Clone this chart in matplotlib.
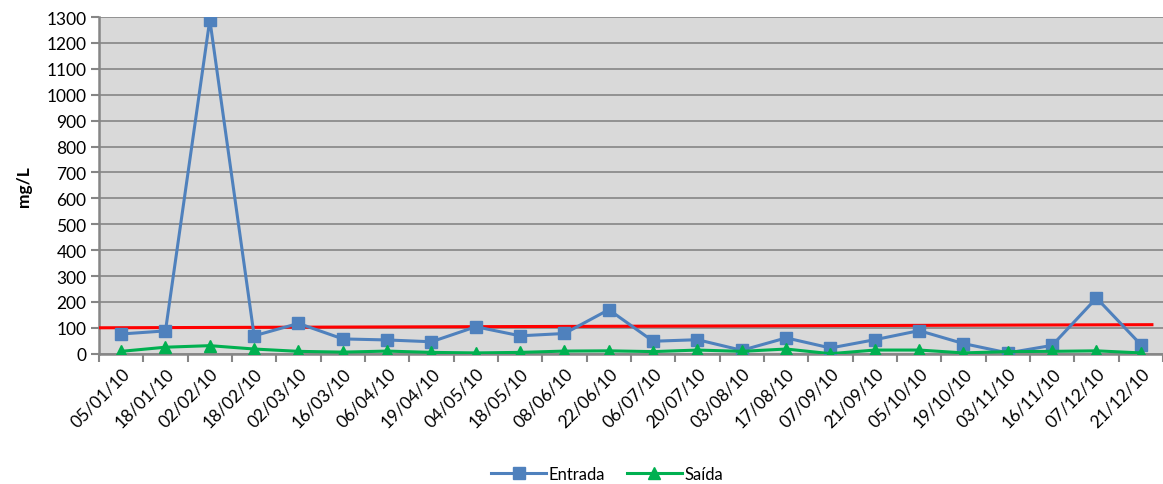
import numpy as np
import matplotlib.pyplot as plt

# Sampling dates (2010) and concentrations in mg/L
dates = ['05/01/10', '18/01/10', '02/02/10', '18/02/10', '02/03/10', '16/03/10',
         '06/04/10', '19/04/10', '04/05/10', '18/05/10', '08/06/10', '22/06/10',
         '06/07/10', '20/07/10', '03/08/10', '17/08/10', '07/09/10', '21/09/10',
         '05/10/10', '19/10/10', '03/11/10', '16/11/10', '07/12/10', '21/12/10']
entrada = [76, 88, 1290, 69, 117, 57, 53, 46, 104, 69, 78, 170,
           48, 54, 13, 61, 22, 54, 89, 39, 3, 32, 215, 35]
saida = [9, 25, 31, 18, 9, 6, 10, 5, 3, 5, 10, 11,
         8, 14, 9, 18, 0, 14, 14, 3, 8, 9, 11, 3]
# reference limit line (start/end)
limit_x = [-0.5, 23.25]
limit_y = [100, 112]
yticks = list(range(0, 1301, 100))

plt.rcParams['font.family'] = ['Lato', 'DejaVu Sans']

fig = plt.figure(figsize=(11.63, 4.85), dpi=100)
ax = fig.add_axes([0.0851, 0.2687, 0.9149, 0.694])
ax.set_facecolor('#D9D9D9')

x = np.arange(len(dates))
ax.plot(limit_x, limit_y, color='#FF0000', lw=2.2, zorder=3)
ax.plot(x, entrada, color='#4F81BD', lw=2.2, marker='s', ms=8, zorder=4, label='Entrada')
ax.plot(x, saida, color='#00B050', lw=2.2, marker='^', ms=8, zorder=5, label='Saída')

ax.set_xlim(-0.5, len(dates) - 0.5)
ax.set_ylim(0, 1300)
ax.set_yticks(yticks)
ax.set_yticklabels([str(v) for v in yticks], fontsize=12.5)
ax.set_xticks(x)
ax.set_xticklabels(dates, rotation=45, ha='right', rotation_mode='anchor', fontsize=12.5)
ax.tick_params(axis='x', length=0, pad=8)
ax.set_xticks(np.arange(-0.5, len(dates), 1), minor=True)
ax.tick_params(axis='x', which='minor', length=6, color='#868686', width=1.5)
ax.tick_params(axis='y', length=6, color='#868686', width=1.5, pad=3)

ax.grid(axis='y', color='#868686', lw=1.2)
ax.set_axisbelow(True)
for side in ['top', 'right']:
    ax.spines[side].set_visible(False)
for side in ['left', 'bottom']:
    ax.spines[side].set_color('#868686')
    ax.spines[side].set_linewidth(1.8)

ax.set_ylabel('mg/L', fontsize=12.5, fontweight='bold', labelpad=10)

handles, labels = ax.get_legend_handles_labels()
fig.legend(handles, labels, loc='center', bbox_to_anchor=(0.522, 0.02), ncol=2,
           frameon=False, fontsize=12, handlelength=3.3, columnspacing=1.3,
           handletextpad=0.15)

fig.savefig('out.png', dpi=100)
